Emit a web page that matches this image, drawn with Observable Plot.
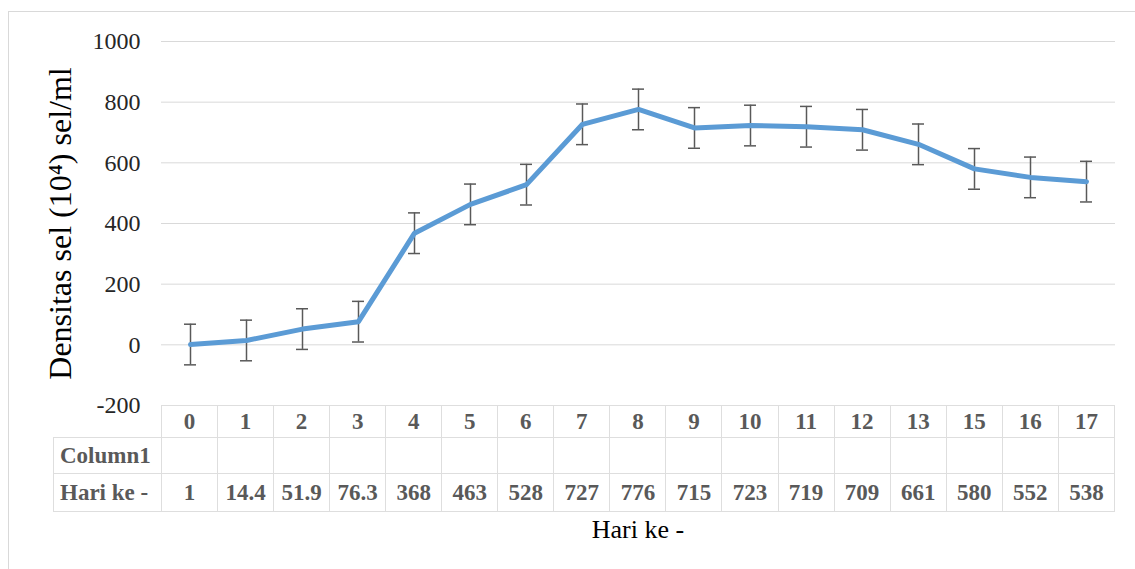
<!DOCTYPE html>
<html>
<head>
<meta charset="utf-8">
<script src="https://cdn.jsdelivr.net/npm/d3@7"></script>
<script src="https://cdn.jsdelivr.net/npm/@observablehq/plot@0.6"></script>
<style>
  body { margin:0; background:#fff; width:1135px; height:569px; overflow:hidden; position:relative; font-family:"Liberation Serif","Times New Roman",serif; }
  #frame { position:absolute; left:8px; top:11px; width:1140px; height:600px; border:1px solid #d9d9d9; box-sizing:border-box; }
  #chart { position:absolute; left:0; top:0; }
  #tbl { position:absolute; left:53px; top:405px; width:1062px; border-collapse:collapse; table-layout:fixed; font-family:"Liberation Serif","Times New Roman",serif; font-weight:bold; font-size:23px; color:#595959; }
  #tbl td { border:1px solid #dedede; padding:0; text-align:center; vertical-align:middle; white-space:nowrap; overflow:visible; }
  #tbl td.rowhead { text-align:left; padding-left:6px; }
  #tbl td.corner { border-top:none; border-left:none; }
  #xlabel { position:absolute; left:161px; width:954px; top:514px; text-align:center; font-size:26px; color:#000; line-height:32px; }
</style>
</head>
<body>
<div id="frame"></div>
<div id="chart"></div>
<table id="tbl"></table>
<div id="xlabel"></div>
<script>
// ---- data ----
const days = ["0","1","2","3","4","5","6","7","8","9","10","11","12","13","15","16","17"];
const values = [1, 14.4, 51.9, 76.3, 368, 463, 528, 727, 776, 715, 723, 719, 709, 661, 580, 552, 538];
const errors = [67, 67, 67, 67, 67, 67, 67, 67, 67, 67, 67, 67, 67, 67, 67, 67, 67];
const yTicks = [-200, 0, 200, 400, 600, 800, 1000];
const rowLabels = ["Column1", "Hari ke -"];
const yLabel = "Densitas sel (10\u2074) sel/ml";
const xLabel = "Hari ke -";

const data = days.map((d, i) => ({day: d, value: values[i], err: errors[i]}));

const chart = Plot.plot({
  width: 1135,
  height: 420,
  marginLeft: 161,
  marginRight: 20,
  marginTop: 41,
  marginBottom: 15,
  style: {fontFamily: "'Liberation Serif','Times New Roman',serif", background: "transparent", overflow: "visible"},
  x: {type: "point", domain: days, padding: 0.5, axis: null},
  y: {domain: [-200, 1000], ticks: yTicks},
  marks: [
    Plot.gridY(yTicks, {stroke: "#d9d9d9", strokeOpacity: 1, strokeWidth: 1}),
    Plot.axisY(yTicks, {tickSize: 0, tickPadding: 21, fontSize: 24, color: "#262626", label: null, tickFormat: d => String(d)}),
    Plot.ruleX(data, {x: "day", y1: d => d.value - d.err, y2: d => d.value + d.err, stroke: "#595959", strokeWidth: 1.5}),
    Plot.ruleY(data, {x1: "day", x2: "day", y: d => d.value + d.err, stroke: "#595959", strokeWidth: 1.5, insetLeft: -6, insetRight: -6}),
    Plot.ruleY(data, {x1: "day", x2: "day", y: d => d.value - d.err, stroke: "#595959", strokeWidth: 1.5, insetLeft: -6, insetRight: -6}),
    Plot.line(data, {x: "day", y: "value", stroke: "#5b9bd5", strokeWidth: 5, strokeLinejoin: "round", strokeLinecap: "round"}),
    Plot.text([yLabel], {frameAnchor: "left", textAnchor: "middle", dx: -101, rotate: -90, fontSize: 32, fill: "#000"})
  ]
});
document.getElementById("chart").appendChild(chart);

// ---- data table below the chart ----
const tbl = document.getElementById("tbl");
const cg = document.createElement("colgroup");
const c0 = document.createElement("col"); c0.style.width = "108px"; cg.appendChild(c0);
days.forEach(() => cg.appendChild(document.createElement("col")));
tbl.appendChild(cg);
const rowHeights = ["32px", "36px", "38px"];
const hdr = document.createElement("tr");
hdr.style.height = rowHeights[0];
const corner = document.createElement("td"); corner.className = "corner"; hdr.appendChild(corner);
days.forEach(d => { const td = document.createElement("td"); td.textContent = d; hdr.appendChild(td); });
tbl.appendChild(hdr);
rowLabels.forEach((lab, r) => {
  const tr = document.createElement("tr");
  tr.style.height = rowHeights[r + 1];
  const th = document.createElement("td"); th.className = "rowhead"; th.textContent = lab; tr.appendChild(th);
  days.forEach((d, i) => {
    const td = document.createElement("td");
    td.textContent = r === 1 ? String(values[i]) : "";
    tr.appendChild(td);
  });
  tbl.appendChild(tr);
});
document.getElementById("xlabel").textContent = xLabel;
</script>
</body>
</html>
